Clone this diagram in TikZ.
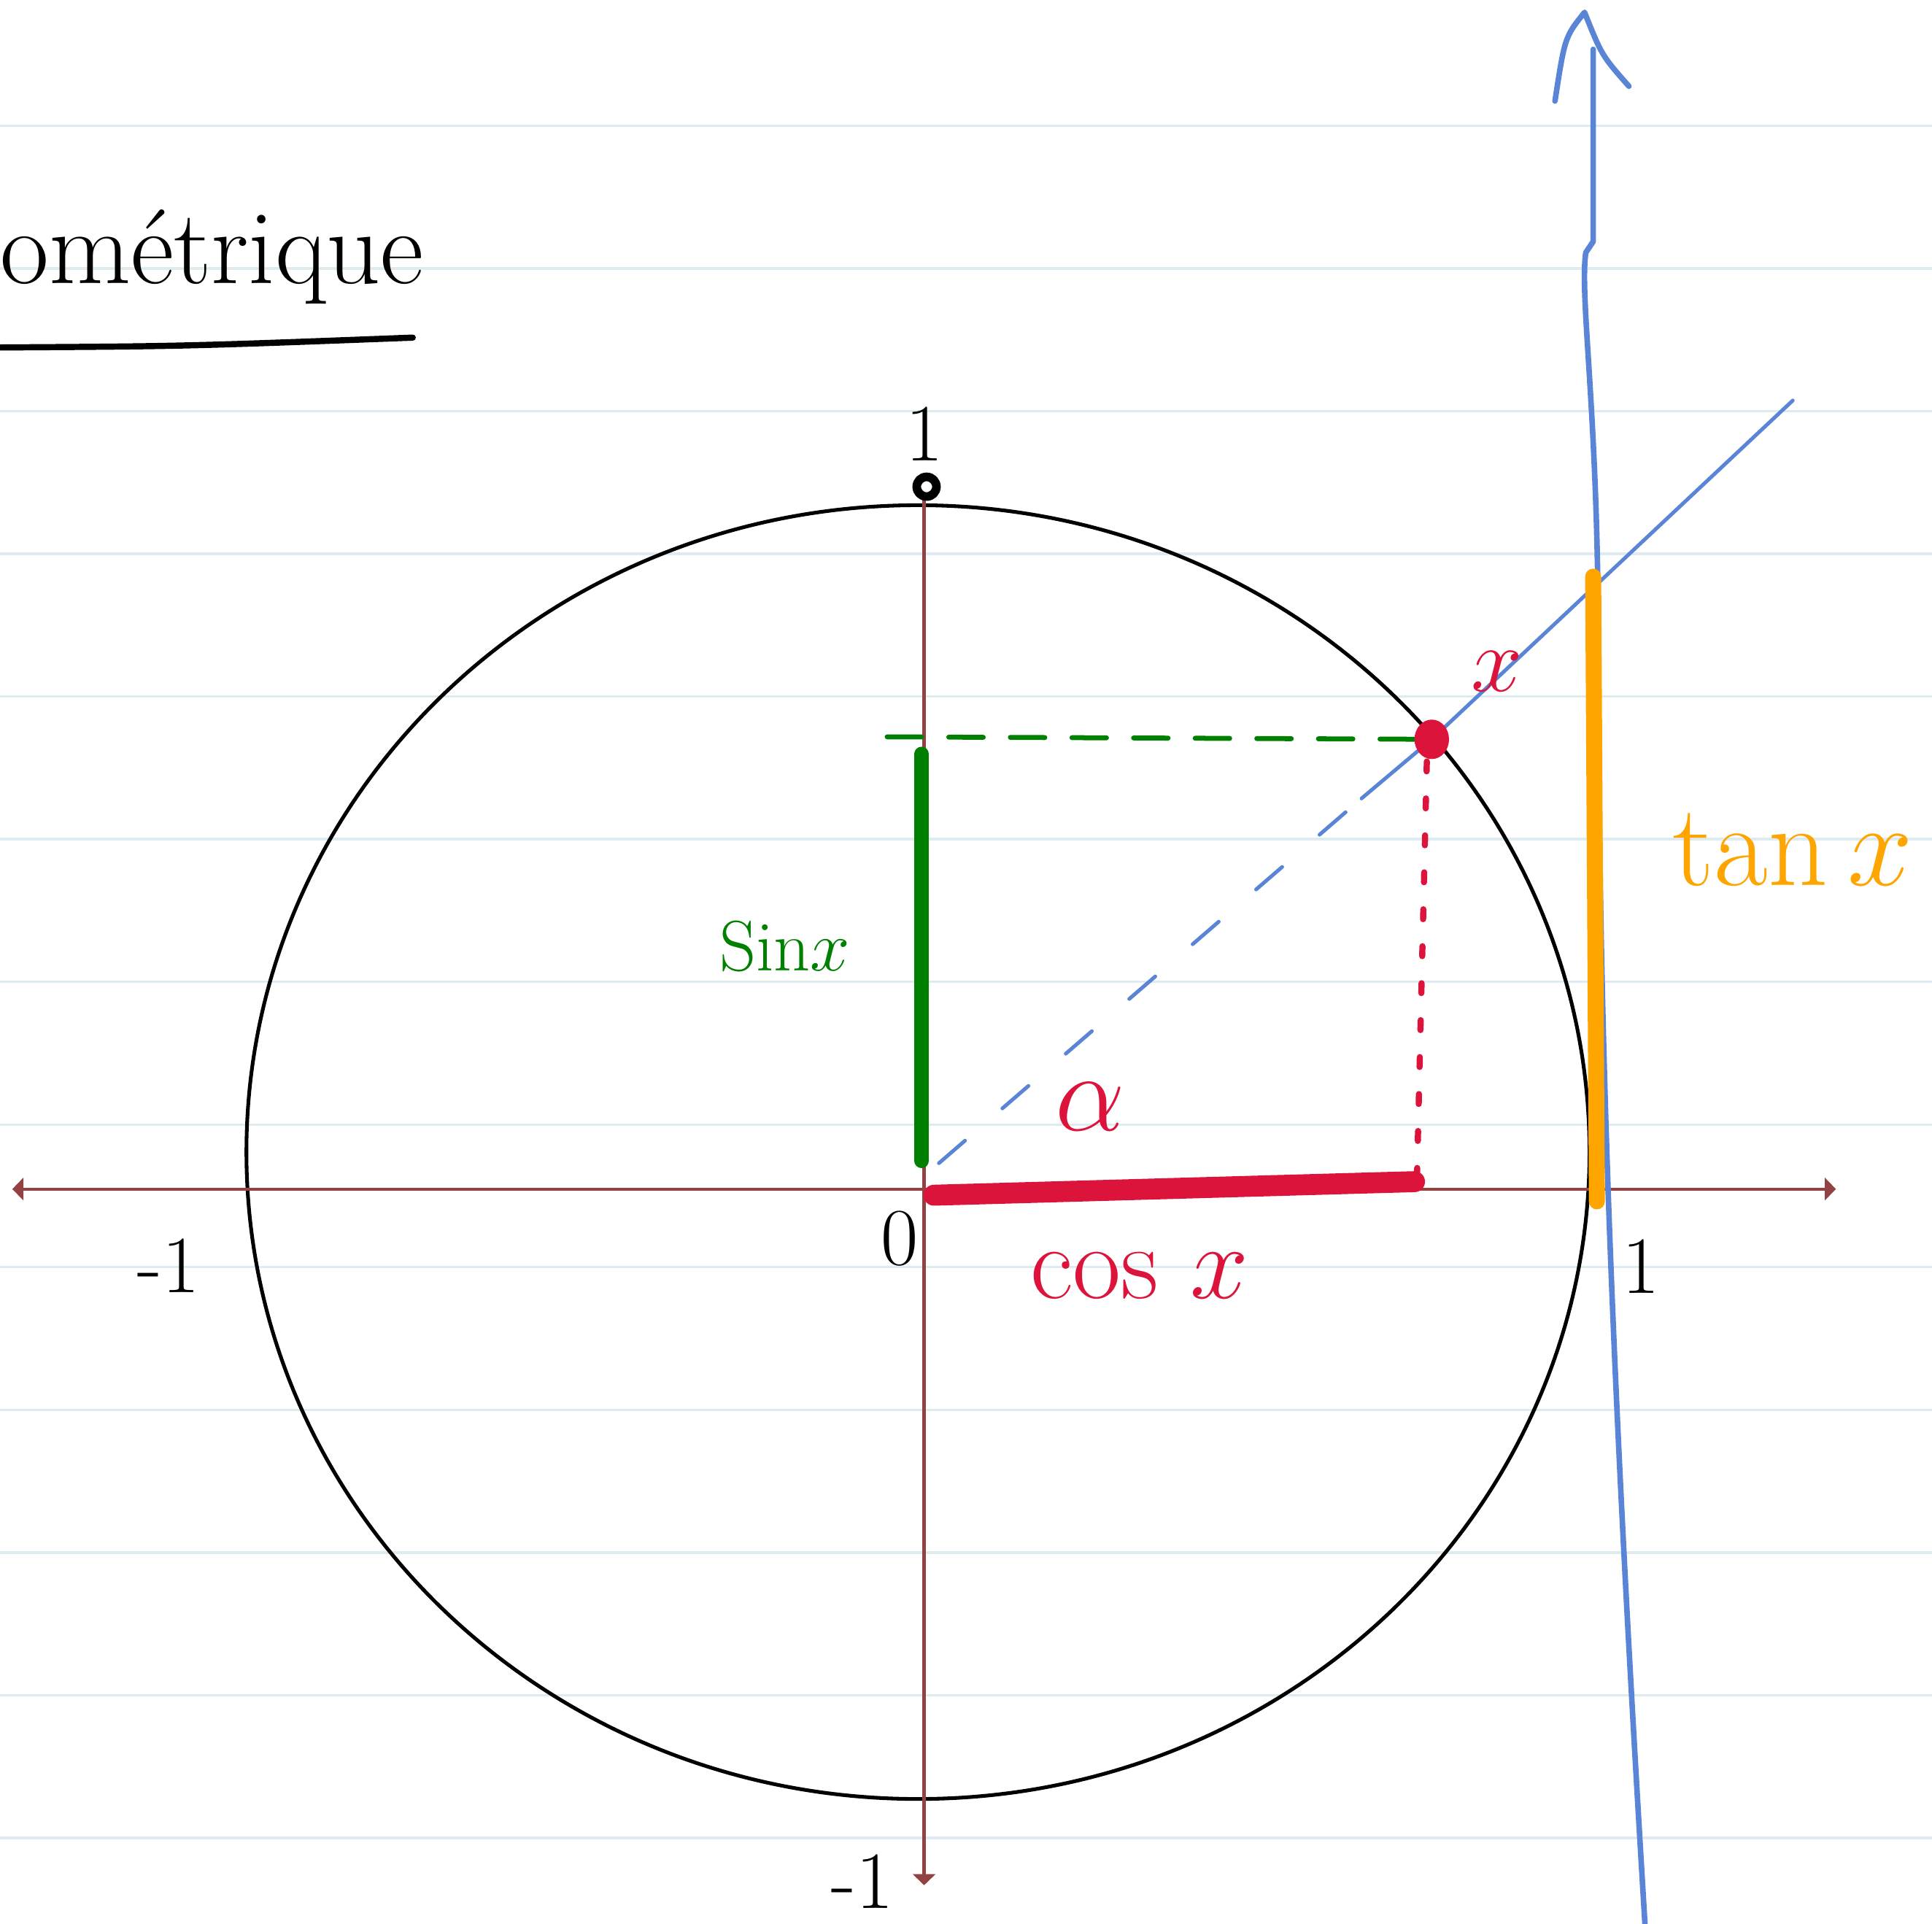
\documentclass[tikz,border=0pt]{standalone}
\usepackage{fix-cm}
\usepackage{fontspec}
\usetikzlibrary{arrows.meta}
\definecolor{PaperLine}{RGB}{222,236,242}
\definecolor{AxisBrown}{RGB}{146,66,66}
\definecolor{SinGreen}{RGB}{0,128,0}
\definecolor{CosRed}{RGB}{220,20,60}
\definecolor{TanOrange}{RGB}{255,165,0}
\definecolor{PenBlue}{RGB}{90,132,214}
\tikzset{
  axisline/.style={draw=AxisBrown, line width=2.5pt},
  axistip/.style={-{Triangle[width=18pt,length=9pt]}},
  ticklbl/.style={font=\fontsize{66}{66}\selectfont, inner sep=0pt},
  penblue/.style={draw=PenBlue, line width=3pt},
}

\begin{document}
\begin{tikzpicture}[x=1pt, y=-1pt, line cap=round, line join=round]
\useasboundingbox (0,0) rectangle (1568,1561);
\fill[white] (0,0) rectangle (1568,1561);
\foreach \k in {0,...,12}
  \draw[PaperLine, line width=2pt] (0,{102+115.8*\k}) -- (1568,{102+115.8*\k});

\node[font=\fontsize{86}{86}\selectfont, anchor=base west, inner sep=0pt] (title) at (0,230) {ométrique};
\draw[line width=5pt] (0,282) .. controls (150,281) .. (335,274);

\coordinate (O) at (750,965);
\coordinate (M) at (1162,600);
\coordinate (C) at (745,935);

\draw[line width=3pt] (C) ellipse [x radius=545, y radius=525];

\draw[axisline, {Triangle[width=18pt,length=9pt]}-{Triangle[width=18pt,length=9pt]}] (10,965) -- (1490,965);
\draw[axisline, axistip] (750,405) -- (750,1530);
\draw[line width=7pt] (752,395) circle [radius=8];

\node[ticklbl] (ytop) at (750,352) {1};
\node[ticklbl] (xneg) at (137,1027) {-1};
\node[ticklbl] (orig) at (730,1005) {0};
\node[ticklbl] (xpos) at (1332,1028) {1};
\node[ticklbl] (yneg) at (700,1527) {-1};

\draw[SinGreen, line width=4pt, dash pattern=on 28pt off 22pt] (720,598) -- (M);
\draw[SinGreen, line width=12pt] (748,612) -- (748,942);
\node[font=\fontsize{58}{58}\selectfont, text=SinGreen] (sinlbl) at (637,768) {Sin$x$};

\draw[CosRed, line width=5pt, dash pattern=on 8pt off 22pt] (1158,618) -- (1150,955);
\draw[CosRed, line width=17pt] (758,970) -- (1148,959);

\draw[penblue, dash pattern=on 28pt off 40pt] (762,944) -- (1105,648);
\draw[penblue] (1105,648) -- (M) -- (1455,325);
\fill[CosRed] (M) ellipse [x radius=14, y radius=16];

\node[font=\fontsize{90}{90}\selectfont, text=CosRed] (alpha) at (885,898) {$\alpha$};
\node[font=\fontsize{85}{85}\selectfont, text=CosRed] (coslbl) at (925,1035) {cos $x$};
\node[font=\fontsize{75}{75}\selectfont, text=CosRed] (xlbl) at (1215,545) {$x$};

\draw[penblue, line width=4.5pt] (1335,1561) .. controls (1310,1150) and (1297,850) .. (1297,500)
  .. controls (1296,330) and (1282,240) .. (1287,205) -- (1293,196) -- (1293,40);
\draw[penblue, line width=4.5pt] (1262,82) .. controls (1270,30) .. (1286,10) .. controls (1300,45) .. (1322,70);

\draw[TanOrange, line width=13pt] (1293,468) -- (1296,975);
\node[font=\fontsize{95}{95}\selectfont, text=TanOrange] (tanlbl) at (1455,690) {tan\,$x$};
\end{tikzpicture}
\end{document}
